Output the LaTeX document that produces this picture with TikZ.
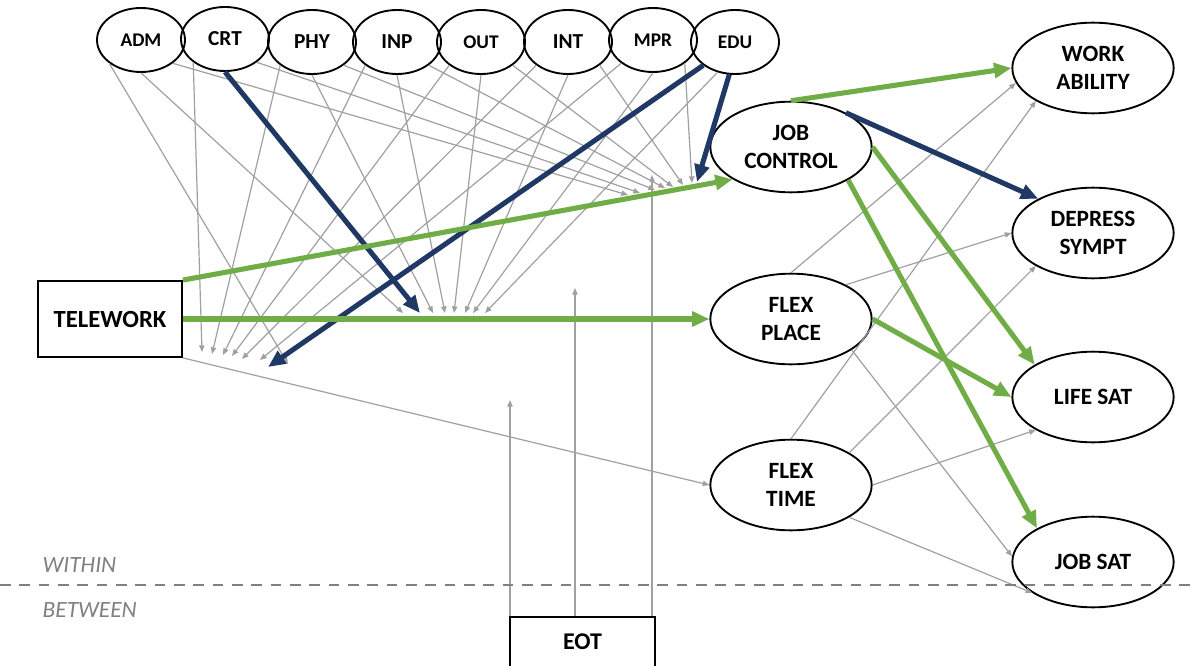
\documentclass[tikz,border=0pt]{standalone}
\usepackage{fontspec}
\setmainfont{Carlito}
\usepackage{xcolor}
\usepackage{tikz}
\usetikzlibrary{arrows.meta, shapes.geometric, positioning, calc}

\definecolor{effgreen}{HTML}{70AD47}
\definecolor{effblue}{HTML}{203864}
\definecolor{linegray}{HTML}{A0A0A0}
\definecolor{textgray}{HTML}{808080}

\begin{document}
\begin{tikzpicture}[x=0.75pt, y=0.75pt,
        covar/.style={ellipse, draw, line width=1.4pt, minimum width=66pt, minimum height=48pt, inner sep=0pt, font=\bfseries\fontsize{14.5}{16}\selectfont},
        covarbig/.style={covar, font=\bfseries\fontsize{16}{18}\selectfont},
        outcome/.style={ellipse, draw, line width=1.4pt, minimum width=121pt, minimum height=68pt, inner sep=0pt, align=center, font=\bfseries\fontsize{17.5}{20.5}\selectfont},
        varbox/.style={rectangle, draw, line width=1.4pt, font=\bfseries\fontsize{18.5}{21}\selectfont},
        lvltext/.style={anchor=west, text=textgray, font=\itshape\fontsize{17.5}{20}\selectfont},
        grayarrow/.style={draw=linegray, line width=0.9pt, -{Triangle[length=5pt, width=4pt]}},
        greenarrow/.style={draw=effgreen, line width=3.8pt, -{Triangle[length=13pt, width=11pt]}},
        bluearrow/.style={greenarrow, draw=effblue}]
        \useasboundingbox (0,0) rectangle (1198,665);

        % covariates along the top
        \foreach \nm/\lab/\px/\py/\st in {adm/ADM/141/625/covar, crt/CRT/225/626/covarbig,
                phy/PHY/312/623/covarbig, inp/INP/397/623/covarbig, out/OUT/481/623/covar,
                int/INT/568/623/covarbig, mpr/MPR/653/625/covar, edu/EDU/735/623/covar}
            \node[\st] (\nm) at (\px,\py) {\lab};

        % mediators and outcomes
        \node[outcome] (jc) at (791,518) {JOB\\CONTROL};
        \node[outcome] (fp) at (791,346) {FLEX\\PLACE};
        \node[outcome] (ft) at (791,180) {FLEX\\TIME};
        \node[outcome] (wa) at (1093,597) {WORK\\ABILITY};
        \node[outcome] (ds) at (1093,432) {DEPRESS\\SYMPT};
        \node[outcome] (ls) at (1093,268) {LIFE SAT};
        \node[outcome] (js) at (1093,103) {JOB SAT};

        \node[varbox, minimum width=108pt, minimum height=57pt] (tw) at (110,346) {TELEWORK};
        \node[varbox, minimum width=108.75pt, minimum height=37.5pt, font=\bfseries\fontsize{18}{20}\selectfont] (eot) at (582.5,23) {EOT};

        \node[lvltext] (within) at (38,100) {WITHIN};
        \node[lvltext] (between) at (38,55) {BETWEEN};

        % where the covariate arrows land on the three paths
        \foreach \nm/\xa/\ya/\xb/\xc/\yc in {adm/628/470/403/288/301, crt/640/472/420/202/313,
                phy/655/475/433/212/311, inp/665/477/445/223/310, out/673/478/454/232/309,
                int/683/480/465/242/306, mpr/692/482/473/260/305, edu/697/483/485/268/298}
        {
            \coordinate (\nm-jc) at (\xa,\ya);
            \coordinate (\nm-fp) at (\xb,352);
            \coordinate (\nm-ft) at (\xc,\yc);
        }
        \coordinate (m1) at (510,265);
        \coordinate (m2) at (575,377);
        \coordinate (m3) at (652,490);

        \foreach \nm in {adm,crt,phy,inp,out,int,mpr}
            \draw[grayarrow] (\nm.south east) -- (\nm-jc);
        \foreach \nm in {adm,phy,inp,out,int,mpr}
            \draw[grayarrow] (\nm.south) -- (\nm-fp);
        \draw[grayarrow] (edu.240) -- (edu-fp);
        \foreach \nm in {adm,crt,phy,inp,out,int,mpr}
            \draw[grayarrow] (\nm.south west) -- (\nm-ft);

        \draw[grayarrow] (eot.north -| m1) -- (m1);
        \draw[grayarrow] (eot.north -| m2) -- (m2);
        \draw[grayarrow] (eot.north -| m3) -- (m3);

        \draw[grayarrow] (tw.south east) -- (ft.west);
        \draw[grayarrow] (fp.north) -- (wa.191);
        \draw[grayarrow] (fp.32) -- (ds.west);
        \draw[grayarrow] (fp.-27) -- (js.176);
        \draw[grayarrow] (ft.north) -- (wa.210);
        \draw[grayarrow] (ft.29) -- (ds.210);
        \draw[grayarrow] (ft.east) -- (ls.210);
        \draw[grayarrow] (ft.-29) -- (js.207);

        \draw[bluearrow] (crt.south) -- (crt-fp);
        \draw[bluearrow] (edu.260) -- (edu-jc);
        \draw[bluearrow] (edu.south west) -- (edu-ft);

        \draw[greenarrow] (tw.north east) -- (jc.209);
        \draw[greenarrow] (tw.east) -- (fp.west);
        \draw[greenarrow] (jc.north) -- (wa.west);
        \draw[bluearrow] (jc.32) -- (ds.148);
        \draw[greenarrow] (jc.east) -- (ls.151);
        \draw[greenarrow] (jc.-30) -- (js.149);
        \draw[greenarrow] (fp.east) -- (ls.west);

        % within / between split
        \draw[textgray, line width=1.8pt, dash pattern=on 8pt off 6.5pt] (0,80) -- (1198,80);
    \end{tikzpicture}
\end{document}
